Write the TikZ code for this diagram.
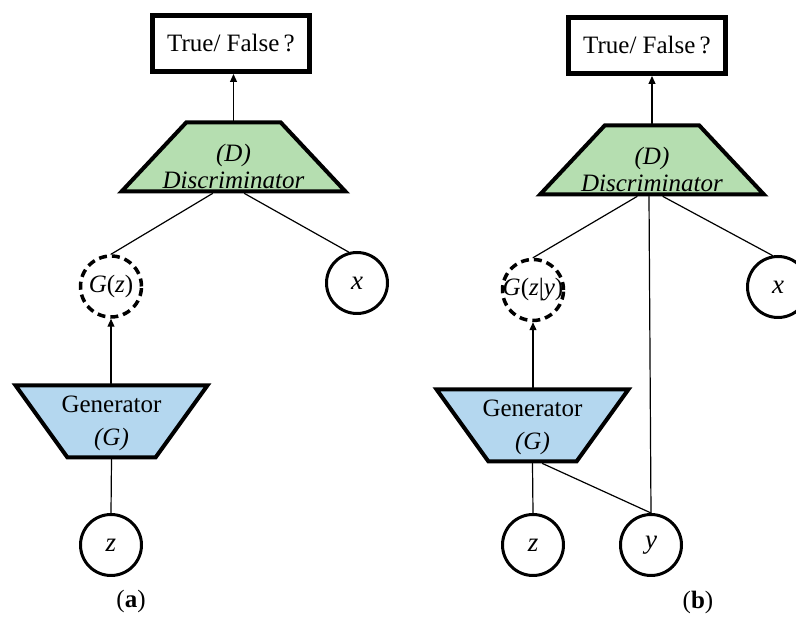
\documentclass[tikz,border=0pt]{standalone}
\usepackage{fontspec}
\setmainfont{Liberation Serif}
\usepackage{tikz}
\usetikzlibrary{arrows.meta,shapes.geometric,calc}
\definecolor{discgreen}{RGB}{181,222,176}
\definecolor{genblue}{RGB}{180,215,239}

\begin{document}
\begin{tikzpicture}[line cap=round,line join=round,>={Triangle[width=7pt,length=8pt]},x=1pt,y=-1pt,
    every node/.style={font=\fontsize{25}{27}\selectfont},
    outbox/.style={draw,line width=5pt,line cap=butt,line join=miter,minimum width=157pt,minimum height=56pt,inner sep=0pt},
    discbox/.style={trapezium,draw,line width=4pt,line join=miter,fill=discgreen,trapezium angle=53,trapezium stretches=true,minimum width=224pt,minimum height=69pt,inner sep=0pt},
    genbox/.style={trapezium,draw,line width=4pt,line join=miter,fill=genblue,trapezium angle=123,trapezium stretches=true,minimum width=192pt,minimum height=72pt,inner sep=0pt},
    var/.style={circle,draw,line width=3pt,minimum size=61pt,inner sep=0pt,font=\fontsize{27}{30}\selectfont},
    fake/.style={var,line width=3.5pt,line cap=butt,dash pattern=on 8pt off 5pt,font=\fontsize{25}{27}\selectfont},
    link/.style={line width=1.2pt}]
    \useasboundingbox (0,0) rectangle (796,617);
    \clip (0,0) rectangle (796,617);
    % (a)
    \node[outbox] (tfa) at (231,43.5) {True/ False\,?};
    \node[discbox] (disca) at (233.5,157) {\phantom{X}};
    \node[align=center,font=\fontsize{25}{27}\selectfont\itshape] (disclbla) at ([yshift=-9pt]disca.center) {(D)\\Discriminator};
    \node[genbox] (gena) at (111.5,421.5) {\phantom{X}};
    \node[align=center] (genlbla) at ([yshift=-2pt]gena.center) {Generator\\[6pt]\textit{(G)}};
    \node[fake] (gza) at (111,286.5) {\makebox[0pt]{\textit{G}(\textit{z})}};
    \node[var] (xa) at (357,283) {\textit{x}};
    \node[var] (za) at (111,545) {\textit{z}};
    \node (capa) at (131,601) {(\textbf{a})};
    \draw[link,->] (disca.north) -- (disca.north |- tfa.south);
    \draw[link] ($(disca.south)+(-21,0)$) -- (gza.north);
    \draw[link] ($(disca.south)+(11,0)$) -- (xa.105);
    \draw[link,->] (gza.south |- gena.north) -- (gza.south);
    \draw[link] (gena.south) -- (za.north);
    % (b)
    \node[outbox] (tfb) at (647,45.5) {True/ False\,?};
    \node[discbox] (discb) at (652,160) {\phantom{X}};
    \node[align=center,font=\fontsize{25}{27}\selectfont\itshape] (disclblb) at ([yshift=-9pt]discb.center) {(D)\\Discriminator};
    \node[genbox] (genb) at (532.5,425.5) {\phantom{X}};
    \node[align=center] (genlblb) at ([yshift=-2pt]genb.center) {Generator\\[6pt]\textit{(G)}};
    \node[fake] (gzyb) at (533,290) {\makebox[0pt]{\textit{G}(\textit{z}|\textit{y})}};
    \node[var] (xb) at (778,287) {\textit{x}};
    \node[var] (zb) at (533,545) {\textit{z}};
    \node[var] (yb) at (651,545) {\textit{y}};
    \node (capb) at (698,602) {(\textbf{b})};
    \draw[link,->] (discb.north) -- (discb.north |- tfb.south);
    \draw[link] ($(discb.south)+(-15,0)$) -- (gzyb.north);
    \draw[link] ($(discb.south)+(-3,0)$) -- (yb.north);
    \draw[link] ($(discb.south)+(11,0)$) -- (xb.100);
    \draw[link,->] (gzyb.south |- genb.north) -- (gzyb.south);
    \draw[link] (genb.south) -- (zb.north);
    \draw[link] ($(genb.south)+(10,0)$) -- (yb.north);
\end{tikzpicture}
\end{document}
